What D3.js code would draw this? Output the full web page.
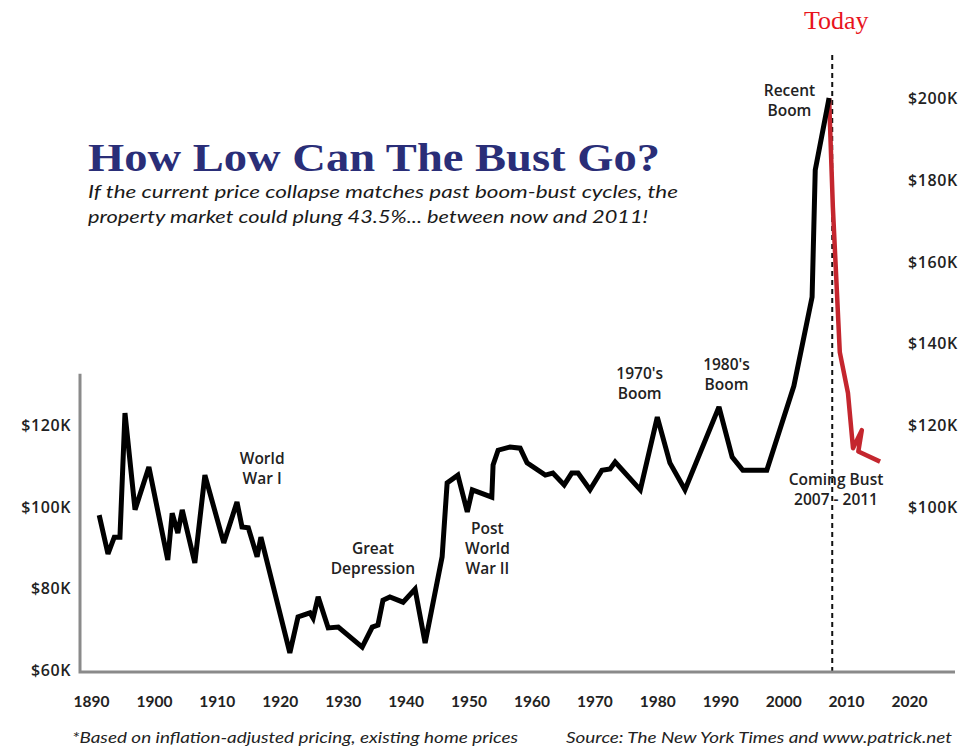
<!DOCTYPE html>
<html>
<head>
<meta charset="utf-8">
<script src="https://cdn.jsdelivr.net/npm/d3@7"></script>
<style>
  html, body { margin: 0; padding: 0; background: #fff; }
  svg { display: block; }
  .note { font-family: "Open Sans", sans-serif; font-weight: 600; font-size: 15.5px; fill: #222; text-anchor: middle; }
  .tick text { font-family: "Open Sans", sans-serif; font-weight: 600; fill: #222; }
</style>
</head>
<body>
<div id="vis"></div>
<script>
// historic home price index (thousands of $, inflation adjusted)
const histYears = [1891.3, 1892.7, 1893.7, 1894.6, 1895.4, 1897.0, 1899.2, 1902.2, 1902.9, 1903.8,
  1904.5, 1906.5, 1908.1, 1911.1, 1913.2, 1914.0, 1915.0, 1916.4, 1917.0, 1921.6,
  1922.9, 1924.8, 1925.3, 1926.1, 1927.7, 1929.3, 1933.1, 1934.7, 1935.6, 1936.4,
  1937.5, 1939.6, 1941.5, 1943.1, 1945.8, 1946.6, 1948.3, 1949.8, 1950.6, 1953.7,
  1953.9, 1954.7, 1956.6, 1958.2, 1959.3, 1962.2, 1963.4, 1965.2, 1966.4, 1967.4,
  1969.3, 1971.2, 1972.5, 1973.3, 1977.3, 1980.0, 1982.0, 1984.4, 1989.8, 1991.9,
  1993.6, 1997.4, 2001.7, 2004.6, 2005.1, 2007.3];
const histValues = [97.9, 88.4, 92.5, 92.5, 122.9, 99.2, 109.7, 86.9, 98.4, 93.5,
  99.2, 86.2, 107.7, 91.1, 101.1, 95.0, 94.8, 87.7, 92.5, 64.2,
  73.0, 74.0, 72.7, 77.9, 70.3, 70.5, 65.6, 70.5, 71.0, 77.1,
  77.9, 76.6, 79.8, 66.6, 87.7, 105.8, 107.7, 98.7, 104.1, 102.3,
  110.2, 113.8, 114.6, 114.3, 110.7, 107.7, 108.2, 105.3, 108.2, 108.2,
  104.1, 108.9, 109.2, 110.9, 104.1, 121.9, 110.7, 104.1, 124.4, 112.1,
  108.9, 108.9, 129.5, 151.3, 182.4, 200.0];

// projected bust
const bustYears = [2007.3, 2007.9, 2009.0, 2010.3, 2011.1, 2012.5, 2011.95, 2015.4];
const bustValues = [200.0, 173.3, 137.8, 127.8, 114.3, 118.7, 113.5, 111.0];

const todayYear = 2007.8;
const xTicks = [1890, 1900, 1910, 1920, 1930, 1940, 1950, 1960, 1970, 1980, 1990, 2000, 2010, 2020];
const leftTicks = [60, 80, 100, 120];
const rightTicks = [100, 120, 140, 160, 180, 200];

const notes = [
  {lines: ["World", "War I"], year: 1917.2, value: 110.5},
  {lines: ["Great", "Depression"], year: 1934.8, value: 88.3},
  {lines: ["Post", "World", "War II"], year: 1953.0, value: 93.3},
  {lines: ["1970's", "Boom"], year: 1977.2, value: 131.2},
  {lines: ["1980's", "Boom"], year: 1991.0, value: 133.4},
  {lines: ["Recent", "Boom"], year: 2001.0, value: 200.6},
  {lines: ["Coming Bust", "2007 - 2011"], year: 2008.4, value: 105.3}
];

const width = 967, height = 749;

const svg = d3.select("#vis").append("svg")
  .attr("width", width)
  .attr("height", height);

const x = d3.scaleLinear().domain([1890, 2020]).range([91, 909]);
const y = d3.scaleLinear().domain([60, 200]).range([670, 98]);

// title + subtitle
svg.append("text")
  .attr("x", 88).attr("y", 171)
  .attr("textLength", 572).attr("lengthAdjust", "spacingAndGlyphs")
  .style("font-family", "'Liberation Serif', 'Times New Roman', serif")
  .style("font-weight", "bold").style("font-size", "41px")
  .attr("fill", "#2a2e78")
  .text("How Low Can The Bust Go?");

const sub = [
  {t: "If the current price collapse matches past boom-bust cycles, the", y: 198, w: 590},
  {t: "property market could plung 43.5%... between now and 2011!", y: 223, w: 560}
];
svg.selectAll(".sub").data(sub).join("text")
  .attr("class", "sub")
  .attr("x", 88).attr("y", d => d.y)
  .attr("textLength", d => d.w).attr("lengthAdjust", "spacingAndGlyphs")
  .style("font-family", "Lato, sans-serif").style("font-style", "italic")
  .style("font-size", "18px")
  .attr("fill", "#1a1a1a")
  .text(d => d.t);

// today marker
svg.append("line")
  .attr("x1", x(todayYear)).attr("x2", x(todayYear))
  .attr("y1", 55).attr("y2", y(60) + 2)
  .attr("stroke", "#111").attr("stroke-width", 2)
  .attr("stroke-dasharray", "5,4");

svg.append("text")
  .attr("x", x(todayYear) + 4).attr("y", 29)
  .attr("text-anchor", "middle")
  .style("font-family", "'Liberation Serif', 'Times New Roman', serif")
  .style("font-size", "26px")
  .attr("fill", "#e8141c")
  .text("Today");

// axes
const axisLeft = svg.append("g")
  .attr("transform", "translate(71,0)")
  .call(d3.axisLeft(y).tickValues(leftTicks).tickSize(0).tickPadding(0)
    .tickFormat(d => "$" + d + "K"));
const axisRight = svg.append("g")
  .attr("transform", "translate(908,0)")
  .call(d3.axisRight(y).tickValues(rightTicks).tickSize(0).tickPadding(0)
    .tickFormat(d => "$" + d + "K"));
const axisBottom = svg.append("g")
  .attr("transform", "translate(0,696)")
  .call(d3.axisBottom(x).tickValues(xTicks).tickSize(0).tickPadding(0)
    .tickFormat(d3.format("d")));

[axisLeft, axisRight, axisBottom].forEach(a => a.select(".domain").remove());
[axisLeft, axisRight].forEach(a => a.selectAll("text")
  .style("font-size", "16px").style("letter-spacing", "0.6px").attr("dy", "0.35em"));
axisBottom.selectAll("text").style("font-size", "15.5px")
  .style("font-family", "Lato, sans-serif").style("font-weight", "bold");

// axis frame lines
svg.append("path")
  .attr("d", `M80,${y(132.5)}V${y(60) + 2}H955`)
  .attr("fill", "none")
  .attr("stroke", "#8a8a8a")
  .attr("stroke-width", 3);

// lines
const line = d3.line().x(d => x(d[0])).y(d => y(d[1]));

svg.append("path")
  .datum(d3.zip(bustYears, bustValues))
  .attr("d", line)
  .attr("fill", "none")
  .attr("stroke", "#c4262e")
  .attr("stroke-width", 4.5)
  .attr("stroke-linejoin", "round");

svg.append("path")
  .datum(d3.zip(histYears, histValues))
  .attr("d", line)
  .attr("fill", "none")
  .attr("stroke", "#000")
  .attr("stroke-width", 5)
  .attr("stroke-linejoin", "miter")
  .attr("stroke-miterlimit", 3);

// annotations
const note = svg.selectAll(".note").data(notes).join("text")
  .attr("class", "note")
  .attr("transform", d => `translate(${x(d.year)},${y(d.value)})`);
note.selectAll("tspan").data(d => d.lines).join("tspan")
  .attr("x", 0)
  .attr("dy", (d, i) => i === 0 ? 0 : 20)
  .text(d => d);

// footnotes
svg.append("text")
  .attr("x", 72).attr("y", 743)
  .attr("textLength", 446).attr("lengthAdjust", "spacingAndGlyphs")
  .style("font-family", "Lato, sans-serif").style("font-style", "italic")
  .style("font-size", "15px").attr("fill", "#222")
  .text("*Based on inflation-adjusted pricing, existing home prices");
svg.append("text")
  .attr("x", 566).attr("y", 743)
  .attr("textLength", 386).attr("lengthAdjust", "spacingAndGlyphs")
  .style("font-family", "Lato, sans-serif").style("font-style", "italic")
  .style("font-size", "15px").attr("fill", "#222")
  .text("Source: The New York Times and www.patrick.net");
</script>
</body>
</html>
